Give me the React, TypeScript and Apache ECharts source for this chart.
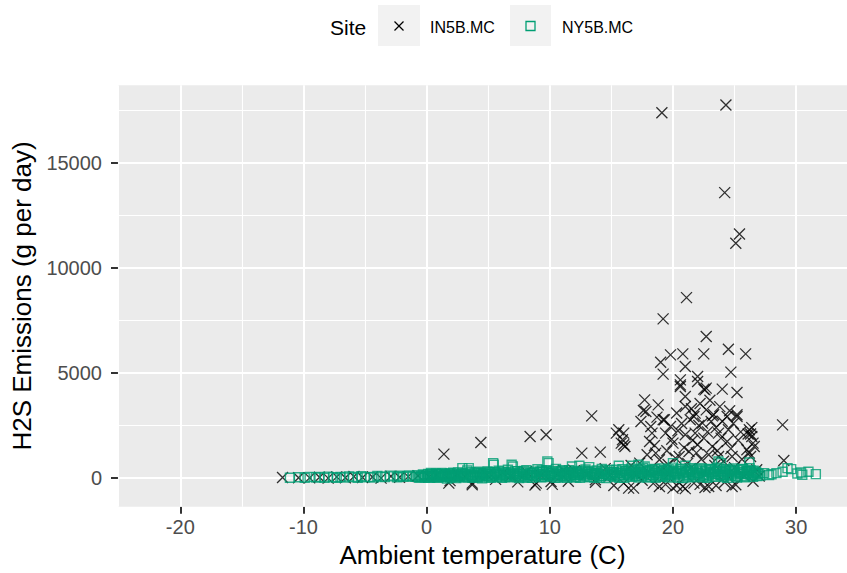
import React, { useEffect, useRef } from "react";
import * as echarts from "echarts";

// ---------- axis breaks ----------
const xTicks = [-20, -10, 0, 10, 20, 30];
const xMinorBreaks = [-25, -15, -5, 5, 15, 25];
const yTicks = [0, 5000, 10000, 15000];
const yMinorBreaks = [2500, 7500, 12500, 17500];
const xLimits = [-25.06, 34.13];
const yLimits = [-1360, 18680];

const siteNames = ["IN5B.MC", "NY5B.MC"];

// ---------- IN5B.MC : [ambient temp (C), H2S emissions (g/day)] ----------
const inCold: number[][] = [
  [-11.7, 30], [-10.4, 20], [-9.5, 10], [-8.7, 40], [-8.0, 0], [-7.3, 60], [-6.6, 20],
  [-5.9, 80], [-5.2, 30], [-4.4, 50], [-3.7, 0], [-2.9, 90], [-2.2, 40], [-1.5, 70], [-0.7, 110],
];
const inMild: number[][] = [
  [0.2, 60], [0.8, 150], [1.4, 1140], [1.8, -238], [1.9, -120], [2.5, 200], [3.1, 80],
  [3.7, -238], [3.7, -318], [4.4, 1692], [4.9, 150], [5.6, -60], [6.2, 250], [6.8, 90],
  [7.4, -180], [8.1, 300], [8.4, 1977], [8.8, -330], [8.9, -238], [9.3, 120], [9.7, 2058],
  [10.1, -160], [10.2, -300], [10.6, 200], [11.1, 380], [11.5, -150], [12.0, 350],
  [12.6, 1188], [13.0, 180], [13.4, 2961], [13.7, -80], [13.7, -200], [14.1, 1236],
  [14.5, 450], [14.9, 120],
];
const inWarm: number[][] = [
  [15.2, -350], [15.4, 2139], [15.6, 2296], [15.8, 1663], [15.9, 1820], [16.0, 2139],
  [16.0, 1583], [16.1, 1502], [16.0, -238], [16.4, -475], [16.6, 600], [16.8, -475],
  [16.9, 280], [17.0, 150], [17.3, 713], [17.4, 2690], [17.5, -100], [17.6, 3213],
  [17.7, 3722], [17.8, 3165], [17.9, 1107], [18.0, 300], [18.1, 1740], [18.2, 2450],
  [18.3, 2139], [18.4, -250], [18.5, 1550], [18.6, 1188], [18.7, 2900], [18.8, 3484],
  [18.9, 870], [18.9, -400], [19.0, 5513], [19.0, 400], [19.1, 17377], [19.2, 7572],
  [19.2, 4943], [19.2, 2771], [19.3, 2771], [19.4, 2139], [19.4, -300], [19.5, 1300],
  [19.6, 650], [19.7, 200], [19.8, 5860], [19.8, 2450], [19.9, 1850], [20.0, 1663],
  [20.0, -475], [20.2, 950], [20.3, 3100], [20.3, -350], [20.4, 2250], [20.5, 1027],
  [20.6, 4434], [20.6, 4672], [20.6, 4354], [20.7, 2600], [20.8, 5908], [20.8, -400],
  [20.9, 1450], [21.0, 5305], [21.0, 3878], [21.0, 3403], [21.0, 2058], [21.0, -500],
  [21.1, 8584], [21.2, 700], [21.3, 1264], [21.4, 2771], [21.4, 450], [21.5, 3300],
  [21.6, 1800], [21.7, 2928], [21.7, -238], [21.8, 3089], [21.8, 2139], [21.9, 1200],
  [22.0, 4591], [22.0, 4829], [22.0, 1583], [22.1, 2500], [22.2, 3550], [22.2, -300],
  [22.3, 900], [22.4, 2614], [22.5, 5908], [22.5, 1901], [22.5, 4230], [22.6, 4197],
  [22.6, -450], [22.7, 6730], [22.7, 3246], [22.7, 4278], [22.8, 2200], [22.9, 1107],
  [22.9, -400], [23.0, 3700], [23.1, 2690], [23.2, 1502], [23.2, 2961], [23.3, 3009],
  [23.4, 600], [23.5, 2400], [23.5, -350], [23.6, 1300], [23.7, 2139], [23.7, 1027],
  [23.8, 3400], [23.9, 1900], [24.0, 4230], [24.0, 2700], [24.1, 800], [24.2, 13575],
  [24.2, -200], [24.3, 17743], [24.4, 2928], [24.4, 1740], [24.5, 6131], [24.5, 2296],
  [24.6, 3200], [24.7, 5038], [24.7, 1400], [24.8, 1027], [24.8, -400], [24.9, 2600],
  [25.0, 500], [25.1, 11170], [25.1, -320], [25.2, 4069], [25.2, 3009], [25.2, 2928],
  [25.3, 1800], [25.4, 11611], [25.5, 2200], [25.6, 900], [25.8, 100], [25.9, 5908],
  [26.0, 1345], [26.1, 2100], [26.2, 2296], [26.2, 1188], [26.3, 1027], [26.3, 2100],
  [26.4, 1977], [26.4, 2400], [26.5, 1663], [26.5, -150], [26.6, 1500], [26.8, 400],
  [27.0, 100], [28.9, 2533], [29.0, 837],
];

// ---------- NY5B.MC : [ambient temp (C), H2S emissions (g/day)] ----------
const nyCold: number[][] = [
  [-11.1, 20], [-10.4, 40], [-9.9, 10], [-9.5, 60], [-9.0, 30], [-8.7, 50], [-8.3, 20],
  [-8.0, 70], [-7.6, 40], [-7.3, 10], [-7.0, 60], [-6.7, 30], [-6.3, 80], [-6.0, 50],
  [-5.6, 20], [-5.3, 90], [-5.0, 40], [-4.6, 60], [-4.3, 30], [-4.0, 100], [-3.7, 70],
  [-3.4, 50], [-3.0, 120], [-2.7, 80], [-2.4, 40], [-2.2, 110], [-1.9, 60], [-1.6, 90],
  [-1.4, 130], [-1.1, 70],
];
const nyMild: number[][] = [
  [-0.9, 60], [-0.75, 140], [-0.6, 20], [-0.48, 90], [-0.3, 170], [-0.15, 40], [0.0, 110],
  [0.12, 200], [0.3, 30], [0.42, 150], [0.6, 80], [0.75, 220], [0.88, 10], [1.05, 130],
  [1.2, 250], [1.32, 60], [1.5, 180], [1.65, -20], [1.78, 120], [1.95, 230], [2.1, 50],
  [2.22, 160], [2.4, 0], [2.55, 270], [2.7, 90], [2.82, 190], [2.9, 475], [3.0, 30],
  [3.15, 210], [3.3, 361], [3.42, 475], [3.6, 120], [3.72, 20], [3.9, 260], [4.05, 70],
  [4.2, 300], [4.35, 150], [4.5, -10], [4.62, 230], [4.8, 100], [4.95, 320], [5.1, 40],
  [5.22, 190], [5.4, 713], [5.45, 632], [5.55, 280], [5.7, 60], [5.85, 350], [6.0, 130],
  [6.12, 10], [6.3, 250], [6.45, 170], [6.6, 400], [6.72, 50], [6.9, 632], [7.0, 551],
  [7.05, 210], [7.2, 90], [7.35, 330], [7.5, 0], [7.62, 180], [7.8, 280], [7.95, 60],
  [8.1, 380], [8.22, 140], [8.4, 230], [8.55, 20], [8.7, 310], [8.85, 110], [9.0, 420],
  [9.12, 200], [9.3, 40], [9.45, 290], [9.6, 150], [9.72, 360], [9.8, 789], [9.9, 713],
  [10.05, 80], [10.2, 260], [10.35, 170], [10.5, 430], [10.62, 30], [10.8, 220],
  [10.95, 330], [11.1, 100], [11.22, 270], [11.4, 10], [11.55, 380], [11.7, 160],
  [11.8, 551], [11.85, 240], [12.0, 60], [12.12, 340], [12.3, 190], [12.4, 585],
  [12.45, 20], [12.6, 300], [12.72, 130], [12.9, 410],
];
const nyWarm: number[][] = [
  [13.05, 70], [13.2, 523], [13.35, 250], [13.5, 160], [13.62, 30], [13.8, 360],
  [13.95, 210], [14.1, 90], [14.22, 440], [14.4, 280], [14.55, 0], [14.7, 180],
  [14.85, 390], [15.0, 120], [15.12, 300], [15.3, 50], [15.45, 230], [15.6, 585],
  [15.72, 150], [15.9, 420], [16.05, 20], [16.2, 330], [16.35, 190], [16.5, 80],
  [16.62, 450], [16.7, 585], [16.8, 260], [16.95, 120], [17.1, 370], [17.2, 632],
  [17.22, 30], [17.4, 210], [17.55, 480], [17.7, 551], [17.85, 140], [18.0, 300],
  [18.12, 60], [18.3, 410], [18.45, 230], [18.6, 10], [18.72, 350], [18.9, 170],
  [19.05, 460], [19.2, 90], [19.35, 280], [19.5, 380], [19.62, 30], [19.8, 220],
  [19.95, 500], [20.0, 713], [20.1, 150], [20.22, 320], [20.4, 70], [20.55, 420],
  [20.7, 240], [20.85, 0], [21.0, 585], [21.12, 360], [21.3, 130], [21.45, 470],
  [21.6, 200], [21.72, 40], [21.9, 390], [22.05, 260], [22.2, 100], [22.35, 450],
  [22.5, 170], [22.62, 310], [22.8, 20], [22.95, 420], [23.1, 230], [23.22, 80],
  [23.4, 360], [23.55, 490], [23.7, 789], [23.85, 150], [23.9, 713], [24.0, 300],
  [24.12, 50], [24.3, 410], [24.45, 200], [24.6, 330], [24.72, 110], [24.9, 460],
  [25.05, 250], [25.2, 30], [25.35, 380], [25.5, 180], [25.62, 430], [25.8, 90],
  [25.95, 320], [26.1, 210], [26.2, 741], [26.22, 470], [26.4, 140], [26.55, 350],
  [26.7, 260], [26.85, 100],
];
const nyBand: number[][] = [
  [0.05, 90], [0.28, 180], [0.5, 120], [0.7, 60], [0.95, 200], [1.15, 100], [1.4, 160],
  [1.6, 70], [1.85, 210], [2.05, 120], [2.3, 80], [2.5, 190], [2.75, 130], [2.95, 240],
  [3.2, 90], [3.5, 170], [3.8, 110], [4.1, 220], [4.3, 60], [4.55, 180], [4.75, 260],
  [5.0, 120], [5.3, 80], [5.6, 200], [5.9, 140], [6.2, 300], [6.5, 100], [6.8, 220],
  [7.1, 160], [7.4, 260], [7.7, 80], [8.0, 200], [8.3, 140], [8.6, 250], [8.9, 100],
  [9.2, 300], [9.5, 180], [9.8, 120], [10.1, 240], [10.4, 90], [10.7, 300], [11.0, 160],
  [11.3, 220], [11.6, 100], [11.9, 280], [12.2, 150], [12.5, 240], [12.8, 80], [13.1, 300],
  [13.4, 190], [13.7, 250], [14.0, 110], [14.3, 330], [14.6, 200], [14.9, 140], [15.2, 280],
  [15.5, 100], [15.8, 240], [16.1, 320], [16.4, 160], [16.7, 260], [17.0, 120], [17.3, 300],
  [17.6, 200], [17.9, 350], [18.2, 130], [18.5, 270], [18.8, 90], [19.1, 330], [19.4, 210],
  [19.7, 150], [20.0, 280], [20.3, 200], [20.6, 340], [20.9, 120], [21.2, 260], [21.5, 300],
  [21.8, 150], [22.1, 220], [22.4, 340], [22.7, 100], [23.0, 270], [23.3, 180], [23.6, 320],
  [23.9, 140], [24.2, 240], [24.5, 160], [24.8, 300], [25.1, 120], [25.4, 260], [25.7, 200],
  [26.0, 330], [26.3, 150], [26.6, 240], [26.9, 180], [27.1, 120],
];
const nyBand2: number[][] = [
  [-0.5, 50], [-0.2, 120], [0.15, 20], [0.35, 240], [0.55, 70], [0.8, 170], [1.0, 40],
  [1.25, 210], [1.45, 90], [1.7, 150], [1.9, 30], [2.15, 260], [2.35, 110], [2.6, 60],
  [2.85, 200], [3.05, 140], [3.35, 40], [3.55, 280], [3.75, 160], [3.95, 90], [4.15, 30],
  [4.4, 250], [4.65, 120], [4.85, 180], [5.05, 290], [5.25, 20], [5.5, 150], [5.75, 230],
  [5.95, 80], [6.15, 190], [6.4, 40], [6.65, 280], [6.85, 130], [7.15, 330], [7.3, 40],
  [7.55, 210], [7.75, 120], [7.9, 340], [8.15, 20], [8.45, 170], [8.65, 80], [8.95, 270],
  [9.15, 130], [9.35, 360], [9.55, 50], [9.85, 230], [10.0, 150], [10.25, 330], [10.45, 10],
  [10.65, 190], [10.85, 100], [11.05, 380], [11.25, 50], [11.45, 200], [11.65, 300],
  [11.95, 130], [12.15, 30], [12.35, 260], [12.55, 160], [12.85, 350], [13.0, 200],
  [13.25, 40], [13.45, 320], [13.65, 150], [13.85, 240], [14.05, 20], [14.25, 190],
  [14.5, 380], [14.75, 80], [14.95, 260], [15.15, 170], [15.4, 400], [15.65, 20],
  [15.85, 320], [16.0, 130], [16.25, 230], [16.45, 380], [16.65, 60], [16.9, 300],
  [17.15, 200], [17.35, 420], [17.5, 90], [17.75, 260], [17.95, 30], [18.15, 370],
  [18.35, 160], [18.55, 440], [18.8, 240], [19.0, 60], [19.25, 380], [19.45, 150],
  [19.65, 420], [19.85, 70], [20.05, 350], [20.25, 230], [20.45, 10], [20.65, 450],
  [20.8, 170], [21.05, 290], [21.25, 50], [21.4, 410], [21.65, 320], [21.85, 80], [22.0, 240],
  [22.25, 460], [22.45, 40], [22.7, 370], [22.9, 160], [23.05, 430], [23.25, 290], [23.45, 60],
  [23.65, 200], [23.8, 440], [24.05, 120], [24.25, 330], [24.4, 20], [24.65, 400], [24.85, 190],
  [25.0, 360], [25.25, 80], [25.45, 290], [25.7, 420], [25.9, 40], [26.05, 260], [26.3, 380],
  [26.5, 60], [26.75, 300], [26.95, 220],
];
const nyHot: number[][] = [
  [27.4, 238], [27.8, 150], [28.0, 180], [28.4, 238], [28.9, 300], [29.3, 475], [29.6, 428],
  [30.1, 220], [30.4, 266], [30.5, 157], [31.0, 300], [31.6, 190],
];

const FONT = "'Liberation Sans', Arial, Helvetica, sans-serif";
const GREEN = "#009E73";
const CROSS = "path://M0,0L10,10M10,0L0,10";

export default function App() {
  const ref = useRef<HTMLDivElement>(null);

  useEffect(() => {
    if (!ref.current) return;
    const chart = echarts.init(ref.current, null, { renderer: "svg" });

    const gridLines = [
      ...xTicks.map((v) => ({ xAxis: v, lineStyle: { width: 2 } })),
      ...xMinorBreaks.map((v) => ({ xAxis: v, lineStyle: { width: 1.1 } })),
      ...yTicks.map((v) => ({ yAxis: v, lineStyle: { width: 2 } })),
      ...yMinorBreaks.map((v) => ({ yAxis: v, lineStyle: { width: 1.1 } })),
    ];

    const axisLabelStyle = { color: "#4D4D4D", fontSize: 20, fontFamily: FONT };

    chart.setOption({
      animation: false,
      grid: {
        left: 118,
        right: 0,
        top: 85.3,
        bottom: 66.3,
        show: true,
        backgroundColor: "#EBEBEB",
        borderWidth: 0,
      },
      xAxis: {
        type: "value",
        min: xLimits[0],
        max: xLimits[1],
        name: "Ambient temperature (C)",
        nameLocation: "middle",
        nameGap: 33,
        nameTextStyle: { color: "#000", fontSize: 26, fontFamily: FONT },
        axisLine: { show: false, onZero: false },
        axisTick: { show: true, length: 7, lineStyle: { color: "#333333", width: 2 }, customValues: xTicks },
        axisLabel: { ...axisLabelStyle, margin: 10, customValues: xTicks, formatter: (v: number) => String(v) },
        splitLine: { show: false },
      },
      yAxis: {
        type: "value",
        min: yLimits[0],
        max: yLimits[1],
        name: "H2S Emissions (g per day)",
        nameLocation: "middle",
        nameGap: 80,
        nameTextStyle: { color: "#000", fontSize: 26, fontFamily: FONT },
        axisLine: { show: false, onZero: false },
        axisTick: { show: true, length: 7, lineStyle: { color: "#333333", width: 2 }, customValues: yTicks },
        axisLabel: { ...axisLabelStyle, margin: 16, customValues: yTicks, formatter: (v: number) => String(v) },
        splitLine: { show: false },
      },
      graphic: [
        { type: "text", x: 330, y: 27, style: { text: "Site", fontSize: 21, fontFamily: FONT, fill: "#000", verticalAlign: "middle" } },
        { type: "rect", shape: { x: 378, y: 5, width: 42, height: 41 }, style: { fill: "#F2F2F2" } },
        { type: "line", shape: { x1: 394.5, y1: 21.5, x2: 403.5, y2: 30.5 }, style: { stroke: "#000", lineWidth: 1.2 } },
        { type: "line", shape: { x1: 403.5, y1: 21.5, x2: 394.5, y2: 30.5 }, style: { stroke: "#000", lineWidth: 1.2 } },
        { type: "text", x: 430, y: 27, style: { text: siteNames[0], fontSize: 16, fontFamily: FONT, fill: "#000", verticalAlign: "middle" } },
        { type: "rect", shape: { x: 510, y: 5, width: 41, height: 41 }, style: { fill: "#F2F2F2" } },
        { type: "rect", shape: { x: 526, y: 21.5, width: 9, height: 9 }, style: { fill: "none", stroke: GREEN, lineWidth: 1.3 } },
        { type: "text", x: 562, y: 27, style: { text: siteNames[1], fontSize: 16, fontFamily: FONT, fill: "#000", verticalAlign: "middle" } },
      ],
      series: [
        {
          type: "scatter",
          name: siteNames[0],
          data: [...inCold, ...inMild, ...inWarm],
          symbol: CROSS,
          symbolSize: 11,
          itemStyle: { color: "rgba(0,0,0,0)", borderColor: "#000", borderWidth: 1.3 },
          z: 2,
          silent: true,
          markLine: {
            z: 1,
            silent: true,
            symbol: ["none", "none"],
            label: { show: false },
            lineStyle: { color: "#FFFFFF", type: "solid" },
            emphasis: { disabled: true },
            data: gridLines,
          },
        },
        {
          type: "scatter",
          name: siteNames[1],
          data: [...nyCold, ...nyMild, ...nyBand, ...nyBand2, ...nyWarm, ...nyHot],
          symbol: "rect",
          symbolSize: 9,
          itemStyle: { color: "rgba(0,0,0,0)", borderColor: GREEN, borderWidth: 1.4 },
          z: 3,
          silent: true,
        },
      ],
    });

    return () => chart.dispose();
  }, []);

  return (
    <div
      ref={ref}
      style={{ position: "fixed", left: 0, top: 0, width: 847, height: 573, background: "#fff" }}
    />
  );
}
